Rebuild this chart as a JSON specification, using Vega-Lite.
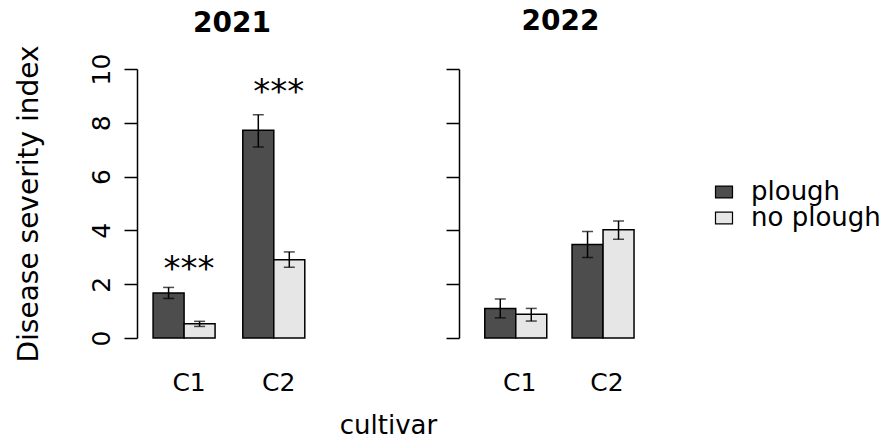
{
  "$schema": "https://vega.github.io/schema/vega-lite/v6.json",
  "padding": {"left": 14, "top": 8, "right": 5, "bottom": 2},
  "bounds": "flush",
  "spacing": 132,
  "config": {
    "font": "DejaVu Sans",
    "view": {"stroke": null},
    "axis": {"grid": false, "domainColor": "black", "tickColor": "black", "labelColor": "black", "titleColor": "black", "domainWidth": 1.5, "tickWidth": 1.5},
    "title": {"fontSize": 28, "fontWeight": "bold", "color": "black"}
  },
  "datasets": {
    "bars": [
      {"year": 2021, "cultivar": "C1", "treatment": "plough", "mean": 1.67, "lower": 1.47, "upper": 1.88},
      {"year": 2021, "cultivar": "C1", "treatment": "no plough", "mean": 0.53, "lower": 0.43, "upper": 0.62},
      {"year": 2021, "cultivar": "C2", "treatment": "plough", "mean": 7.72, "lower": 7.1, "upper": 8.3},
      {"year": 2021, "cultivar": "C2", "treatment": "no plough", "mean": 2.91, "lower": 2.63, "upper": 3.2},
      {"year": 2022, "cultivar": "C1", "treatment": "plough", "mean": 1.1, "lower": 0.75, "upper": 1.45},
      {"year": 2022, "cultivar": "C1", "treatment": "no plough", "mean": 0.88, "lower": 0.63, "upper": 1.1},
      {"year": 2022, "cultivar": "C2", "treatment": "plough", "mean": 3.48, "lower": 2.99, "upper": 3.96},
      {"year": 2022, "cultivar": "C2", "treatment": "no plough", "mean": 4.02, "lower": 3.67, "upper": 4.35}
    ],
    "sig": [
      {"year": 2021, "cultivar": "C1", "label": "***", "y": 2.15},
      {"year": 2021, "cultivar": "C2", "label": "***", "y": 8.72}
    ]
  },
  "resolve": {"scale": {"x": "independent", "y": "independent", "fill": "shared"}, "legend": {"fill": "shared"}},
  "hconcat": [
    {
      "width": 190,
      "height": 269,
      "title": {"text": "2021", "offset": 7},
      "layer": [
        {
          "data": {"name": "bars"},
          "transform": [{"filter": "datum.year == 2021"}],
          "layer": [
            {
              "mark": {"type": "bar", "stroke": "black", "strokeWidth": 1.5},
              "encoding": {
                "fill": {"field": "treatment", "type": "nominal", "sort": ["plough", "no plough"],
                  "scale": {"domain": ["plough", "no plough"], "range": ["#4d4d4d", "#e6e6e6"]},
                  "legend": {"title": null, "orient": "none", "legendX": 574, "legendY": 110, "labelFontSize": 26, "labelColor": "black",
                    "symbolType": "M-1,-0.7H1V0.7H-1Z", "symbolSize": 289, "symbolStrokeColor": "black", "symbolStrokeWidth": 1.2,
                    "rowPadding": 0, "labelOffset": 14}},
                "y": {"field": "mean", "type": "quantitative"}
              }
            },
            {
              "mark": {"type": "rule", "color": "black", "strokeWidth": 1.5},
              "encoding": {"y": {"field": "lower", "type": "quantitative"}, "y2": {"field": "upper"}}
            },
            {
              "mark": {"type": "tick", "color": "black", "size": 11, "thickness": 1.5},
              "encoding": {"y": {"field": "lower", "type": "quantitative"}}
            },
            {
              "mark": {"type": "tick", "color": "black", "size": 11, "thickness": 1.5},
              "encoding": {"y": {"field": "upper", "type": "quantitative"}}
            }
          ],
          "encoding": {
            "x": {"field": "cultivar", "type": "nominal", "scale": {"paddingInner": 0.309, "paddingOuter": 0.2135, "align": 0.42},
              "axis": {"title": "cultivar", "titleX": 251, "titleY": 95, "titleBaseline": "alphabetic", "titleAlign": "center", "titleFontSize": 26, "titleFontWeight": "normal",
                "labelAngle": 0, "labelFontSize": 25, "labelPadding": 32, "ticks": false, "domain": false, "labelOffset": 5}},
            "xOffset": {"field": "treatment", "type": "nominal", "sort": ["plough", "no plough"], "scale": {"paddingInner": 0, "paddingOuter": 0}},
            "y": {"type": "quantitative", "scale": {"domain": [0, 10], "nice": false},
              "axis": {"title": "Disease severity index", "titleFontSize": 28, "titleFontWeight": "normal", "titlePadding": 46,
                "values": [0, 2, 4, 6, 8, 10], "labelAngle": -90, "labelAlign": "center", "labelBaseline": "bottom", "labelPadding": 10, "labelFontSize": 25, "tickSize": 13}}
          }
        },
        {
          "data": {"name": "sig"},
          "mark": {"type": "text", "fontSize": 34, "baseline": "alphabetic", "dx": 5, "color": "black"},
          "encoding": {
            "x": {"field": "cultivar", "type": "nominal"},
            "y": {"field": "y", "type": "quantitative"},
            "text": {"field": "label"}
          }
        }
      ]
    },
    {
      "width": 203,
      "height": 269,
      "title": {"text": "2022", "offset": 32},
      "data": {"name": "bars"},
      "transform": [{"filter": "datum.year == 2022"}],
      "encoding": {
        "x": {"field": "cultivar", "type": "nominal", "scale": {"paddingInner": 0.316, "paddingOuter": 0.321, "align": 0.46},
          "axis": {"title": null, "labelAngle": 0, "labelFontSize": 25, "labelPadding": 32, "ticks": false, "domain": false, "labelOffset": 5}},
        "xOffset": {"field": "treatment", "type": "nominal", "sort": ["plough", "no plough"], "scale": {"paddingInner": 0, "paddingOuter": 0}},
        "y": {"type": "quantitative", "scale": {"domain": [0, 10], "nice": false},
          "axis": {"title": null, "labels": false, "values": [0, 2, 4, 6, 8, 10], "tickSize": 13}}
      },
      "layer": [
        {
          "mark": {"type": "bar", "stroke": "black", "strokeWidth": 1.5},
          "encoding": {
            "fill": {"field": "treatment", "type": "nominal", "sort": ["plough", "no plough"]},
            "y": {"field": "mean", "type": "quantitative"}
          }
        },
        {
          "mark": {"type": "rule", "color": "black", "strokeWidth": 1.5},
          "encoding": {"y": {"field": "lower", "type": "quantitative"}, "y2": {"field": "upper"}}
        },
        {
          "mark": {"type": "tick", "color": "black", "size": 11, "thickness": 1.5},
          "encoding": {"y": {"field": "lower", "type": "quantitative"}}
        },
        {
          "mark": {"type": "tick", "color": "black", "size": 11, "thickness": 1.5},
          "encoding": {"y": {"field": "upper", "type": "quantitative"}}
        }
      ]
    }
  ]
}
